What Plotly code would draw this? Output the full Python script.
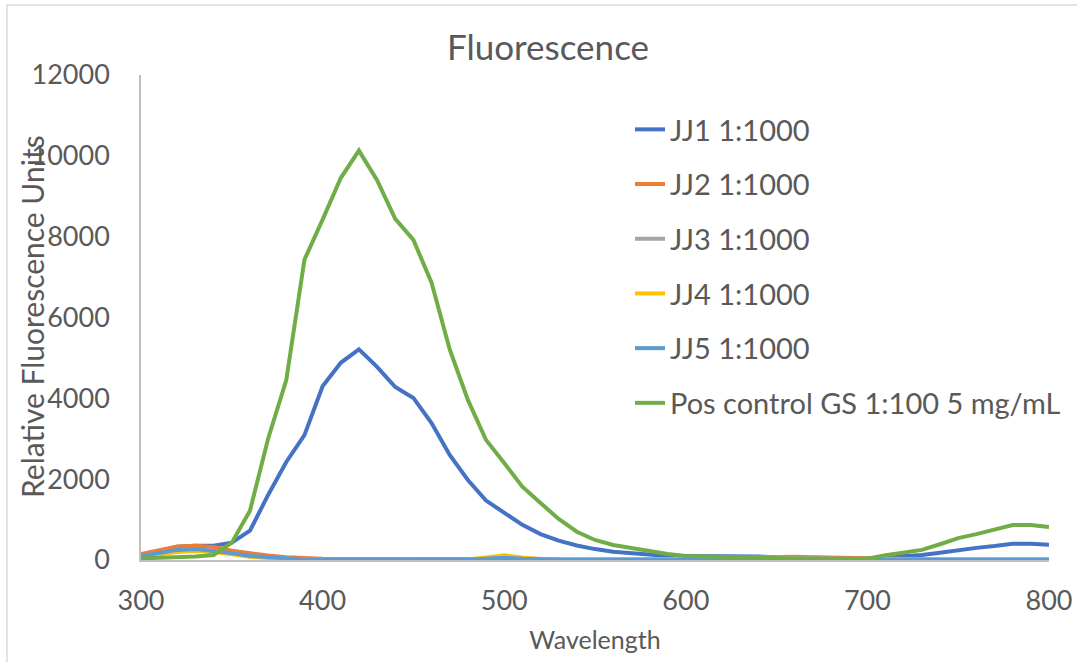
import plotly.graph_objects as go

wavelength = list(range(300, 801, 10))

jj1 = [125, 230, 330, 350, 355, 430, 725, 1610, 2425, 3090,
       4300, 4880, 5210, 4780, 4280, 4010, 3390, 2600, 1980, 1470,
       1160, 870, 640, 480, 360, 270, 205, 165, 125, 100,
       100, 100, 100, 95, 85, 70, 60, 55, 50, 45,
       40, 70, 95, 125, 180, 250, 300, 345, 400, 400, 380]
jj2 = [150, 240, 335, 355, 320, 230, 160, 110, 70, 40,
       30, 25, 20, 15, 15, 15, 10, 10, 10, 40,
       80, 40, 20, 10, 10, 10, 10, 10, 10, 20,
       40, 50, 60, 70, 80, 80, 80, 70, 60, 40,
       30, 20, 10, 10, 10, 10, 10, 10, 10, 10, 10]
jj3 = [90, 160, 230, 250, 220, 160, 95, 65, 30, 15,
       10, 10, 10, 10, 10, 10, 10, 10, 10, 30,
       50, 30, 15, 10, 10, 10, 10, 10, 10, 20,
       40, 50, 60, 60, 60, 60, 60, 50, 40, 30,
       20, 15, 10, 10, 10, 10, 10, 10, 10, 10, 10]
jj4 = [80, 140, 200, 220, 200, 140, 80, 50, 25, 10,
       5, 5, 5, 5, 5, 5, 5, 5, 10, 60,
       120, 60, 20, 5, 5, 5, 5, 5, 5, 10,
       20, 30, 40, 40, 40, 40, 40, 30, 20, 10,
       5, 5, 5, 5, 5, 5, 5, 5, 5, 5, 5]
jj5 = [100, 170, 250, 270, 230, 170, 100, 70, 35, 15,
       10, 10, 5, 5, 5, 5, 5, 5, 10, 30,
       55, 30, 10, 5, 5, 5, 5, 5, 5, 5,
       5, 5, 5, 5, 5, 5, 5, 5, 5, 5,
       5, 5, 5, 5, 5, 5, 5, 5, 5, 5, 5]
pos_ctrl = [40, 55, 70, 85, 125, 430, 1220, 3000, 4450, 7430,
            8420, 9450, 10130, 9400, 8440, 7920, 6860, 5210, 3960, 2970,
            2400, 1815, 1410, 1015, 700, 495, 370, 295, 205, 150,
            100, 85, 75, 60, 45, 35, 35, 30, 30, 30,
            30, 120, 180, 250, 390, 540, 640, 740, 865, 865, 815]

series_names = ["JJ1 1:1000", "JJ2 1:1000", "JJ3 1:1000", "JJ4 1:1000",
                "JJ5 1:1000", "Pos control GS 1:100 5 mg/mL"]
series_values = [jj1, jj2, jj3, jj4, jj5, pos_ctrl]
colors = ["#4472C4", "#ED7D31", "#A5A5A5", "#FFC000", "#5B9BD5", "#70AD47"]

x_ticks = [300, 400, 500, 600, 700, 800]
y_ticks = [0, 2000, 4000, 6000, 8000, 10000, 12000]
y_tick_labels = ["0", "2000", "4000", "6000", "8000", "10000", "12000"]

FONT = "Lato"
TXT = "#595959"

fig = go.Figure()
for i, (name, vals, col) in enumerate(zip(series_names, series_values, colors)):
    fig.add_trace(go.Scatter(
        x=wavelength, y=vals, name=name, mode="lines",
        line=dict(color=col, width=4),
        legendgroup=f"g{i}",
    ))

W, H = 1077, 662
L, R, T, B = 141, 28, 75, 102
PW, PH = W - L - R, H - T - B

fig.update_layout(
    width=W, height=H,
    margin=dict(l=L, r=R, t=T, b=B, autoexpand=False),
    paper_bgcolor="white", plot_bgcolor="white",
    font=dict(family=FONT, color=TXT, size=27),
    title=dict(text="Fluorescence", x=548 / W, xref="container", xanchor="center",
               y=1 - 48 / H, yref="container", yanchor="middle",
               font=dict(size=35, color=TXT, family=FONT)),
    showlegend=True,
    legend=dict(x=(630 - L) / PW, xanchor="left",
                y=(H - B - 104) / PH, yanchor="top",
                font=dict(size=29, color=TXT, family=FONT),
                tracegroupgap=14, bgcolor="rgba(0,0,0,0)",
                itemwidth=30),
    xaxis=dict(range=[300, 800], tickvals=x_ticks, showgrid=False, zeroline=False,
               showline=True, linecolor="#BFBFBF", linewidth=1.5,
               ticks="", ticklabelstandoff=16, automargin=False,
               tickfont=dict(size=27, color=TXT, family=FONT),
               title=dict(text="Wavelength", standoff=16,
                          font=dict(size=25, color=TXT, family=FONT))),
    yaxis=dict(range=[0, 12000], tickvals=y_ticks, ticktext=y_tick_labels,
               showgrid=False, zeroline=False,
               showline=True, linecolor="#BFBFBF", linewidth=1.5,
               ticks="", ticklabelstandoff=24, automargin=False,
               tickfont=dict(size=27, color=TXT, family=FONT)),
)

fig.add_annotation(text="Relative Fluorescence Units", textangle=-90,
                   xref="paper", yref="paper",
                   x=(32 - L) / PW, y=(H - B - 317) / PH,
                   xanchor="center", yanchor="middle", showarrow=False,
                   font=dict(size=30, color=TXT, family=FONT))

fig.add_shape(type="rect", xref="paper", yref="paper",
              x0=(7 - L) / PW, x1=(W + 10 - L) / PW,
              y0=(H - B - (H + 10)) / PH, y1=(H - B - 5) / PH,
              line=dict(color="#D9D9D9", width=1.5), fillcolor="rgba(0,0,0,0)",
              layer="below")

fig.write_html("out.html", config={"responsive": False, "displayModeBar": False},
               post_script="document.body.style.margin='0';")
